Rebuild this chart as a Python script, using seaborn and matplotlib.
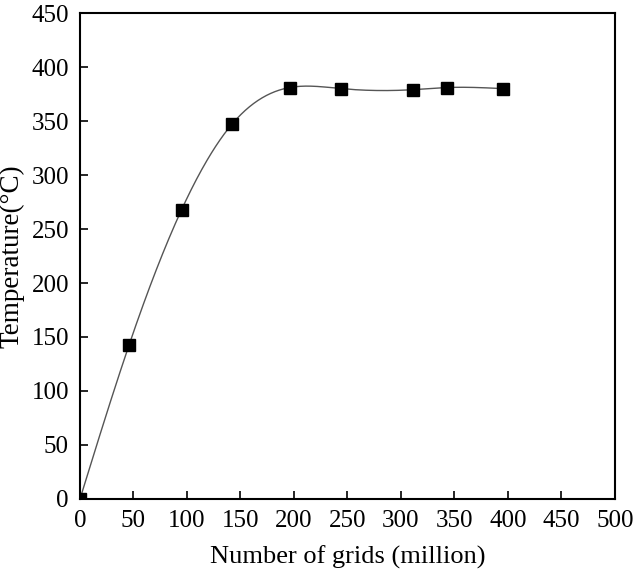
import numpy as np
import pandas as pd
import matplotlib
matplotlib.use("Agg")
import matplotlib.pyplot as plt
import seaborn as sns

grids = [0, 46, 95, 142, 196, 244, 311, 343, 395]
temps = [0, 143, 268, 347, 381, 380, 379, 381, 380]
xticks = [0, 50, 100, 150, 200, 250, 300, 350, 400, 450, 500]
yticks = [0, 50, 100, 150, 200, 250, 300, 350, 400, 450]

sns.set_theme(style="ticks")
plt.rcParams['font.family'] = ['Liberation Serif', 'DejaVu Serif']
plt.rcParams['mathtext.fontset'] = 'stix'

def natural_spline(x, y, n=400):
    x = np.asarray(x, float); y = np.asarray(y, float)
    k = len(x); h = np.diff(x)
    A = np.zeros((k, k)); b = np.zeros(k)
    A[0, 0] = 1; A[-1, -1] = 1
    for i in range(1, k - 1):
        A[i, i - 1] = h[i - 1]; A[i, i] = 2 * (h[i - 1] + h[i]); A[i, i + 1] = h[i]
        b[i] = 6 * ((y[i + 1] - y[i]) / h[i] - (y[i] - y[i - 1]) / h[i - 1])
    M = np.linalg.solve(A, b)
    xs = np.linspace(x[0], x[-1], n)
    idx = np.clip(np.searchsorted(x, xs) - 1, 0, k - 2)
    x0, x1 = x[idx], x[idx + 1]; hh = x1 - x0
    ys = (M[idx] * (x1 - xs) ** 3 / (6 * hh) + M[idx + 1] * (xs - x0) ** 3 / (6 * hh)
          + (y[idx] / hh - M[idx] * hh / 6) * (x1 - xs)
          + (y[idx + 1] / hh - M[idx + 1] * hh / 6) * (xs - x0))
    return xs, ys

fig = plt.figure(figsize=(6.41, 5.76), dpi=100)
ax = fig.add_axes([0.1248, 0.1337, 0.8346, 0.8437])

xs, ys = natural_spline(grids, temps)
curve = pd.DataFrame({"x": xs, "y": ys})
sns.lineplot(data=curve, x="x", y="y", ax=ax, color="#555555", linewidth=1.0, sort=False)
df = pd.DataFrame({"grids": grids, "temp": temps})
ax.plot(df["grids"], df["temp"], linestyle="none", marker="s", markersize=8.5,
        color="black", clip_on=True, zorder=3)

ax.set_xlim(0, 500)
ax.set_ylim(0, 450)
ax.set_xticks(xticks)
ax.set_yticks(yticks)
ax.tick_params(direction="in", length=6, width=1.2, labelsize=18, colors="black",
               top=False, right=False, pad=8)
for s in ax.spines.values():
    s.set_linewidth(1.5)
    s.set_color("black")
ax.set_xlabel("Number of grids (million)", fontsize=19, color="black", labelpad=10)
ax.set_ylabel("Temperature(°C)", fontsize=19.5, color="black", labelpad=5)

fig.savefig("out.png", dpi=100)
